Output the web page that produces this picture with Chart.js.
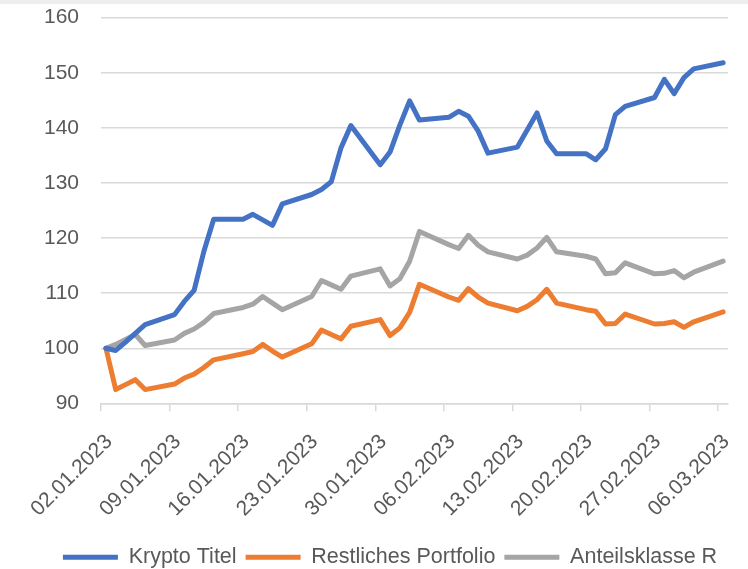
<!DOCTYPE html>
<html>
<head>
<meta charset="utf-8">
<script src="https://cdn.jsdelivr.net/npm/chart.js@4.4.1/dist/chart.umd.min.js"></script>
<style>
  html, body { margin: 0; padding: 0; background: #fff; }
  .wrap { position: relative; width: 748px; height: 569px; overflow: hidden; }
  .top-band { position: absolute; left: 0; top: 0; width: 748px; height: 4px; background: #eeeeee; }
  canvas { position: absolute; left: 0; top: -17px; }
</style>
</head>
<body>
<div class="wrap">
  <canvas id="chart" width="748" height="593"></canvas>
  <div class="top-band"></div>
</div>
<script>
// Handelstage (Mo-Fr)
const dates = [
  "02.01.2023", "03.01.2023", "04.01.2023", "05.01.2023", "06.01.2023",
  "09.01.2023", "10.01.2023", "11.01.2023", "12.01.2023", "13.01.2023",
  "16.01.2023", "17.01.2023", "18.01.2023", "19.01.2023", "20.01.2023",
  "23.01.2023", "24.01.2023", "25.01.2023", "26.01.2023", "27.01.2023",
  "30.01.2023", "31.01.2023", "01.02.2023", "02.02.2023", "03.02.2023",
  "06.02.2023", "07.02.2023", "08.02.2023", "09.02.2023", "10.02.2023",
  "13.02.2023", "14.02.2023", "15.02.2023", "16.02.2023", "17.02.2023",
  "20.02.2023", "21.02.2023", "22.02.2023", "23.02.2023", "24.02.2023",
  "27.02.2023", "28.02.2023", "01.03.2023", "02.03.2023", "03.03.2023",
  "06.03.2023"
];

const kryptoTitel = [
  100, 99.6, 101.1, 102.7, 104.3,
  106.1, 108.5, 110.5, 117.6, 123.4,
  123.4, 124.3, 123.3, 122.3, 126.2,
  127.9, 128.8, 130.2, 136.4, 140.4,
  133.3, 135.6, 140.5, 144.9, 141.4,
  141.9, 143.0, 142.1, 139.4, 135.4,
  136.5, 139.6, 142.7, 137.6, 135.3,
  135.3, 134.2, 136.2, 142.4, 143.9,
  145.5, 148.8, 146.2, 149.1, 150.7,
  151.8
];

const restlichesPortfolio = [
  100, 92.5, 93.4, 94.3, 92.5,
  93.5, 94.6, 95.3, 96.5, 97.9,
  99.0, 99.4, 100.7, 99.5, 98.4,
  100.8, 103.3, 102.5, 101.7, 104.0,
  105.2, 102.3, 103.7, 106.5, 111.6,
  109.3, 108.7, 110.8, 109.3, 108.2,
  106.8, 107.6, 108.8, 110.7, 108.2,
  107.0, 106.7, 104.4, 104.5, 106.2,
  104.4, 104.5, 104.8, 103.8, 104.8,
  106.6
];

const anteilsklasseR = [
  100, 100.7, 101.6, 102.5, 100.5,
  101.5, 102.7, 103.5, 104.7, 106.3,
  107.4, 108.0, 109.4, 108.2, 107.0,
  109.4, 112.3, 111.5, 110.7, 113.1,
  114.4, 111.3, 112.6, 115.8, 121.2,
  118.8, 118.1, 120.5, 118.7, 117.5,
  116.2, 116.9, 118.2, 120.1, 117.5,
  116.7, 116.2, 113.5, 113.7, 115.5,
  113.5, 113.6, 114.1, 112.8, 113.8,
  115.8
];

const tickLabels = [
  "02.01.2023", "09.01.2023", "16.01.2023", "23.01.2023", "30.01.2023",
  "06.02.2023", "13.02.2023", "20.02.2023", "27.02.2023", "06.03.2023"
];

const FONT = "'Liberation Sans', Arial, sans-serif";
const TEXT_COLOR = "#595959";
const GRID_COLOR = "#d9d9d9";

// Tage seit 02.01.2023, Punkt in der Mitte des Tages (wie Excel Datumsachse)
function dayIndex(str) {
  const [d, m, y] = str.split(".").map(Number);
  const start = Date.UTC(2023, 0, 2);
  return (Date.UTC(y, m - 1, d) - start) / 86400000;
}

function toPoints(values) {
  return values.map((v, i) => ({ x: dayIndex(dates[i]) + 0.5, y: v }));
}

function makeDataset(label, values, color) {
  return {
    label: label,
    data: toPoints(values),
    borderColor: color,
    backgroundColor: color,
    borderWidth: 5,
    pointRadius: 0,
    tension: 0,
    borderJoinStyle: "round",
    borderCapStyle: "round",
  };
}

// Legende etwas nach rechts schieben (wie im Original)
const legendShift = {
  id: "legendShift",
  afterLayout(chart) {
    chart.legend.left += 15;
    chart.legend.right += 15;
  },
};

const chart = new Chart(document.getElementById("chart"), {
  type: "line",
  data: {
    datasets: [
      makeDataset("Krypto Titel", kryptoTitel, "#4472c4"),
      makeDataset("Restliches Portfolio", restlichesPortfolio, "#ed7d31"),
      makeDataset("Anteilsklasse R", anteilsklasseR, "#a5a5a5"),
    ],
  },
  plugins: [legendShift],
  options: {
    responsive: false,
    animation: false,
    layout: {
      autoPadding: false,
      padding: { left: 22, right: 20, top: 6, bottom: -2 },
    },
    plugins: {
      tooltip: { enabled: false },
      legend: {
        position: "bottom",
        labels: {
          usePointStyle: true,
          pointStyle: "line",
          pointStyleWidth: 55,
          color: TEXT_COLOR,
          padding: 9,
          font: { family: FONT, size: 21.5 },
        },
      },
    },
    scales: {
      x: {
        type: "linear",
        min: 0,
        max: 64,
        afterFit: (axis) => {
          axis.height -= 2;
          axis.paddingRight = 0;
        },
        ticks: {
          stepSize: 7,
          includeBounds: false,
          autoSkip: false,
          minRotation: 45,
          maxRotation: 45,
          labelOffset: 8,
          color: TEXT_COLOR,
          padding: 18,
          font: { family: FONT, size: 21 },
          callback: (value) => tickLabels[Math.round(value / 7)],
        },
        grid: {
          drawOnChartArea: false,
          drawTicks: true,
          tickLength: 8,
          color: GRID_COLOR,
          lineWidth: 1.5,
        },
        border: { color: GRID_COLOR, width: 1.5 },
      },
      y: {
        min: 90,
        max: 160,
        ticks: {
          stepSize: 10,
          padding: 22,
          color: TEXT_COLOR,
          font: { family: FONT, size: 21 },
        },
        grid: {
          drawTicks: false,
          color: GRID_COLOR,
          lineWidth: 1.5,
        },
        border: { display: false },
      },
    },
  },
});
</script>
</body>
</html>
